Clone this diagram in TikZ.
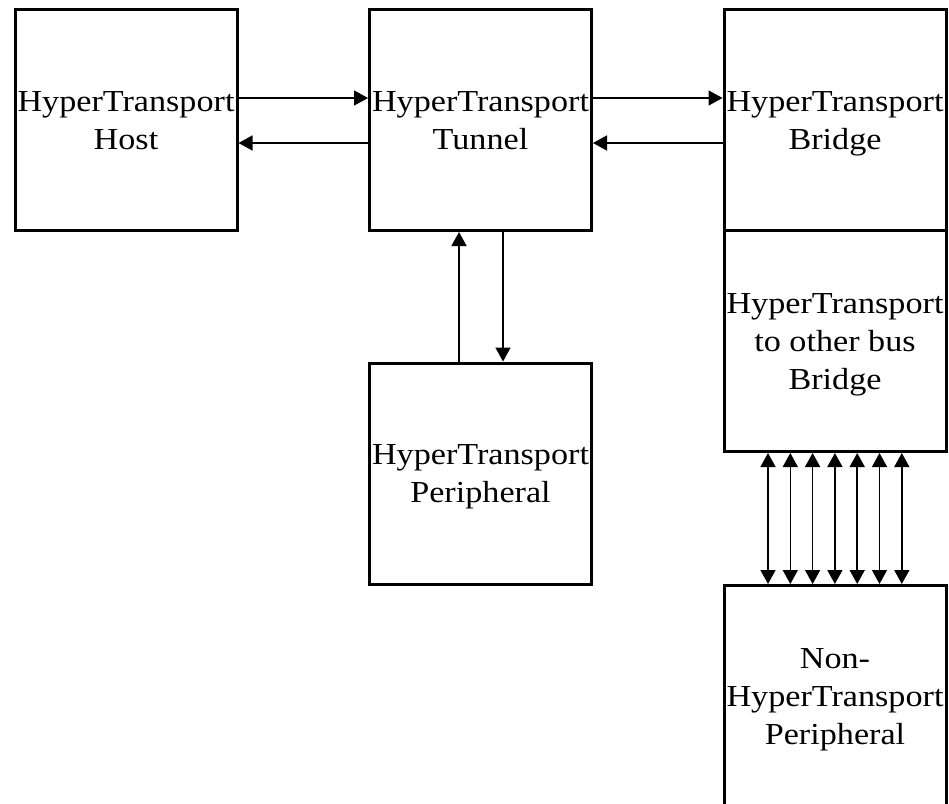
\documentclass[tikz,border=0pt]{standalone}
\usepackage{fontspec}
\setmainfont{Liberation Serif}[FakeStretch=1.12]
\usetikzlibrary{arrows.meta}
\newcommand{\lstrut}{\rule[-6pt]{0pt}{32.6pt}}
\begin{document}
\begin{tikzpicture}[x=1pt,y=-1pt,
  blk/.style={draw, line width=3pt, minimum width=222pt, minimum height=221pt, inner sep=0pt, align=center,
    font=\fontsize{30.5}{38}\selectfont},
  tip/.tip={Triangle[length=14pt,width=15pt]},
  arr/.style={line width=1.5pt, -tip},
  barr/.style={line width=1.5pt, tip-tip}]
\useasboundingbox (0,0) rectangle (949,803);
\clip (0,0) rectangle (949,803);
\fill[white] (0,0) rectangle (949,803);
\node[blk] (host) at (126,120) {\lstrut HyperTransport\\\lstrut Host};
\node[blk] (tunnel) at (480.5,120) {\lstrut HyperTransport\\\lstrut Tunnel};
\node[blk] (bridge) at (835,120) {\lstrut HyperTransport\\\lstrut Bridge};
\node[blk] (other) at (835,341) {\lstrut HyperTransport\\\lstrut to other bus\\\lstrut Bridge};
\node[blk] (periph) at (480.5,473.5) {\lstrut HyperTransport\\\lstrut Peripheral};
\node[blk] (nonht) at (835,696) {\lstrut Non-\\\lstrut HyperTransport\\\lstrut Peripheral};
\draw[arr] ([yshift=22pt]host.east) -- ([yshift=22pt]tunnel.west);
\draw[arr] ([yshift=-23pt]tunnel.west) -- ([yshift=-23pt]host.east);
\draw[arr] ([yshift=22pt]tunnel.east) -- ([yshift=22pt]bridge.west);
\draw[arr] ([yshift=-23pt]bridge.west) -- ([yshift=-23pt]tunnel.east);
\draw[arr] ([xshift=-21.5pt]periph.north) -- ([xshift=-21.5pt]tunnel.south);
\draw[arr] ([xshift=22.5pt]tunnel.south) -- ([xshift=22.5pt]periph.north);
\foreach \i in {0,...,6} {
  \draw[barr] ([xshift={-67+\i*22.3}]other.south) -- ([xshift={-67+\i*22.3}]nonht.north);
}
\end{tikzpicture}
\end{document}
